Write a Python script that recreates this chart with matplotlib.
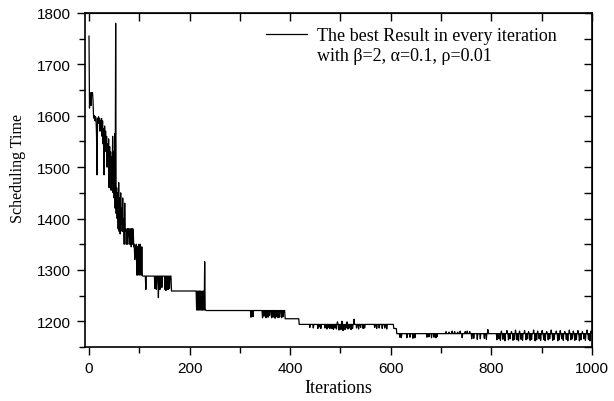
import matplotlib

matplotlib.use("Agg")

import matplotlib.pyplot as plt  # noqa: E402
import numpy as np  # noqa: E402
from matplotlib.lines import Line2D  # noqa: E402
from matplotlib.ticker import MultipleLocator  # noqa: E402

N_ITER = 1000

# Best scheduling time found in each of the first iterations (0..106).
early_values = [
    1755, 1615, 1645, 1640, 1620, 1645, 1640, 1645, 1630, 1600,
    1595, 1600, 1590, 1598, 1595, 1560, 1485, 1595, 1590, 1598,
    1585, 1595, 1570, 1590, 1585, 1595, 1560, 1590, 1545, 1575,
    1485, 1580, 1540, 1570, 1530, 1560, 1500, 1545, 1520, 1555,
    1460, 1540, 1500, 1530, 1455, 1520, 1470, 1560, 1450, 1530,
    1440, 1565, 1420, 1780, 1410, 1460, 1400, 1450, 1380, 1470,
    1375, 1440, 1370, 1450, 1390, 1420, 1375, 1440, 1380, 1400,
    1350, 1430, 1375, 1380, 1350, 1375, 1380, 1350, 1380, 1365,
    1380, 1350, 1375, 1380, 1345, 1380, 1350, 1380, 1375, 1345,
    1350, 1320, 1345, 1345, 1350, 1290, 1345, 1290, 1345, 1350,
    1290, 1345, 1350, 1290, 1290, 1345, 1290,
]

# Level the search settles on from a given iteration onward.
step_iters = [107, 164, 233, 390, 418, 606, 612]
step_values = [1288, 1259, 1221, 1205, 1194, 1186, 1176]

# Single iterations whose best result leaves that level.
spike_iters = [
    # 1288 plateau
    113, 131, 134, 138, 141, 145, 151, 153, 156, 158, 160,
    # unsettled block before the drop to 1221
    214, 216, 217, 219, 221, 223, 224, 226, 227, 229, 230, 231, 232,
    # 1221 plateau
    322, 326, 345, 348, 352, 356, 359, 363, 366, 370, 373, 376, 379, 383, 386,
    # 1194 plateau
    439, 446, 455, 459, 461, 469, 473, 477, 479, 483, 486, 489, 492, 494,
    497, 499, 501, 503, 505, 507, 509, 511, 513, 515, 518, 521, 524, 527,
    532, 536, 540, 545, 548, 568, 572, 577, 583, 588, 592,
    # 1176 plateau
    618, 621, 632, 638, 644, 648, 672, 676, 681, 686, 690, 692,
    710, 716, 722, 727, 733, 738, 742, 748, 752, 757,
    761, 765, 772, 778, 786, 790, 793,
    811, 815, 818, 820, 823, 827, 831, 834, 837, 840, 843, 846, 848, 851,
    854, 856, 859, 862, 866, 869, 872, 874, 877, 880, 884, 887, 890, 892,
    895, 898, 901, 904, 907, 910, 913, 916, 919, 922, 925, 929, 932, 935,
    937, 940, 943, 946, 949, 952, 955, 958, 961, 963, 966, 969, 972, 975,
    978, 981, 984, 987, 990, 993, 996, 998, 1000,
]
spike_values = [
    1262, 1264, 1262, 1246, 1262, 1266, 1262, 1260, 1262, 1262, 1264,
    1222, 1222, 1222, 1222, 1222, 1222, 1222, 1222, 1222, 1222, 1316, 1222, 1222,
    1208, 1209, 1207, 1210, 1207, 1208, 1211, 1207, 1208, 1206, 1209, 1207, 1208, 1207, 1209,
    1188, 1187, 1186, 1189, 1186, 1187, 1185, 1188, 1186, 1186, 1184, 1187, 1185, 1199,
    1183, 1186, 1184, 1200, 1182, 1186, 1184, 1187, 1199, 1185, 1187, 1184, 1186, 1204,
    1187, 1185, 1188, 1186, 1187, 1188, 1186, 1187, 1186, 1187, 1185,
    1169, 1168, 1168, 1169, 1167, 1168, 1169, 1170, 1168, 1169, 1168, 1170,
    1180, 1179, 1181, 1180, 1179, 1181, 1168, 1180, 1181, 1180,
    1166, 1167, 1165, 1166, 1167, 1165, 1184,
    1164, 1166, 1163, 1181, 1165, 1162, 1182, 1164, 1166, 1180, 1163, 1165, 1183, 1164,
    1162, 1181, 1165, 1163, 1182, 1164, 1166, 1180, 1163, 1165, 1183, 1162, 1164, 1181,
    1166, 1163, 1182, 1165, 1162, 1180, 1164, 1166, 1183, 1163, 1165, 1181, 1162, 1164,
    1182, 1166, 1163, 1180, 1165, 1162, 1183, 1164, 1166, 1181, 1163, 1165, 1182, 1162,
    1164, 1180, 1166, 1163, 1183, 1165, 1162, 1181, 1176,
]

LEGEND_LINES = ["The best Result in every iteration", "with \u03b2=2, \u03b1=0.1, \u03c1=0.01"]


def build_series() -> np.ndarray:
    """Assemble the per-iteration best result from the pieces above."""
    series = np.empty(N_ITER + 1)
    series[: len(early_values)] = early_values
    ends = step_iters[1:] + [N_ITER + 1]
    for start, end, value in zip(step_iters, ends, step_values):
        series[start:end] = value
    series[spike_iters] = spike_values
    return series


series = build_series()
iterations = np.arange(N_ITER + 1)

serif = "Liberation Serif"
sans = "Liberation Sans"

fig = plt.figure(figsize=(6.14, 4.02), dpi=100)
ax = fig.add_axes([0.1384, 0.1343, 0.8257, 0.8309])

ax.plot(iterations, series, color="black", linewidth=0.9)

ax.set_xlim(-8, 1000)
ax.set_ylim(1150, 1800)
ax.xaxis.set_major_locator(MultipleLocator(200))
ax.xaxis.set_minor_locator(MultipleLocator(100))
ax.yaxis.set_major_locator(MultipleLocator(100))
ax.yaxis.set_minor_locator(MultipleLocator(50))

for spine in ax.spines.values():
    spine.set_linewidth(1.2)

ax.tick_params(which="both", direction="out", width=1.0, pad=4)
ax.tick_params(which="major", length=6)
ax.tick_params(which="minor", length=4)
for label in ax.get_xticklabels() + ax.get_yticklabels():
    label.set_fontfamily(sans)
    label.set_fontsize(11)

# inward ticks on the top and right frame, no labels
top = ax.secondary_xaxis("top")
top.xaxis.set_major_locator(MultipleLocator(100))
top.tick_params(direction="in", length=6, width=1.0, labeltop=False)
right = ax.secondary_yaxis("right")
right.yaxis.set_major_locator(MultipleLocator(50))
right.tick_params(direction="in", length=6, width=1.0, labelright=False)

ax.set_xlabel("Iterations", fontfamily=serif, fontsize=13, labelpad=3)
ax.set_ylabel("Scheduling Time", fontfamily=serif, fontsize=11.5)
ax.yaxis.set_label_coords(-0.117, 0.537)

handles = [
    Line2D([], [], color="black", linewidth=0.9),
    Line2D([], [], color="none"),
]
ax.legend(
    handles,
    LEGEND_LINES,
    loc="upper left",
    bbox_to_anchor=(0.357, 0.957),
    frameon=False,
    borderpad=0,
    borderaxespad=0,
    handlelength=2.3,
    handletextpad=0.5,
    labelspacing=0.15,
    prop={"family": serif, "size": 13},
)

fig.savefig("out.png", dpi=100)
